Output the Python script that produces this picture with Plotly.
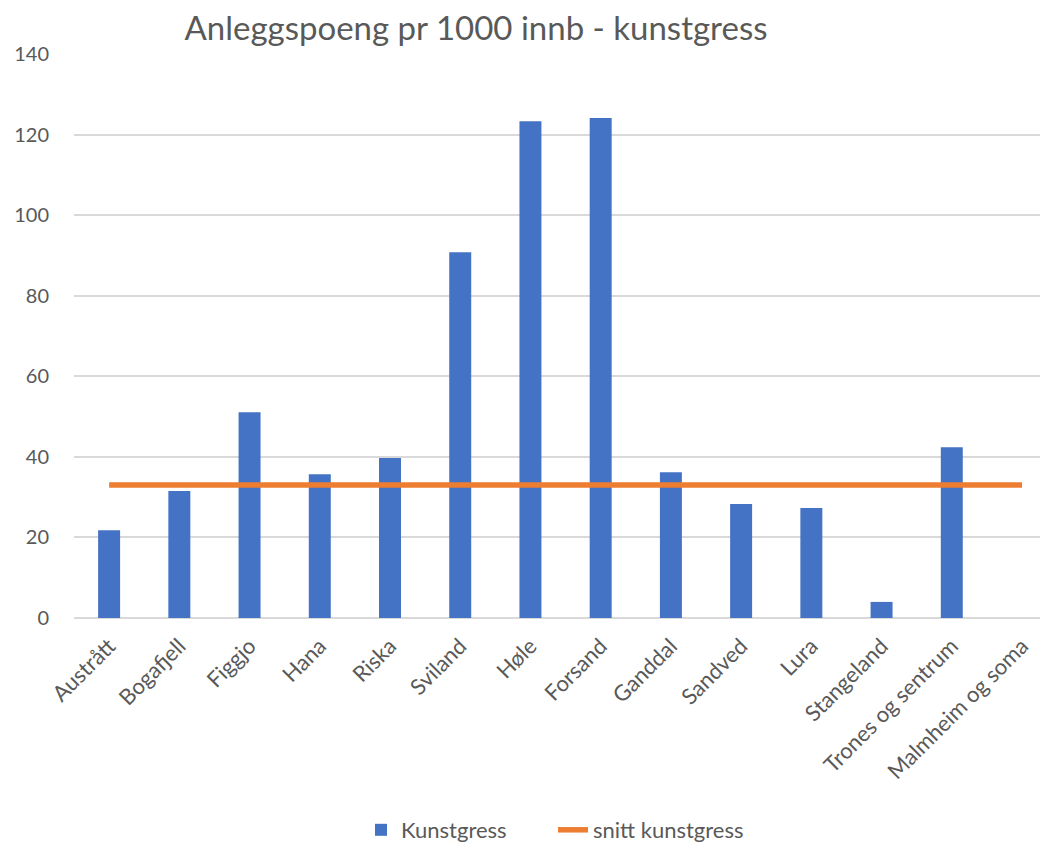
import plotly.graph_objects as go

categories = ["Austrått", "Bogafjell", "Figgjo", "Hana", "Riska", "Sviland", "Høle",
              "Forsand", "Ganddal", "Sandved", "Lura", "Stangeland",
              "Trones og sentrum", "Malmheim og soma"]
kunstgress = [21.8, 31.5, 51.1, 35.7, 39.7, 90.8, 123.3, 124.1, 36.2, 28.3, 27.3, 4.0, 42.4, 0.0]
snitt = [33.0, 33.0, 33.0, 33.0, 33.0, 33.0, 33.0, 33.0, 33.0, 33.0, 33.0, 33.0, 33.0, 33.0]
y_ticks = [0, 20, 40, 60, 80, 100, 120, 140]

FONT = "Lato"
GREY = "#595959"
# page body has an 8px default margin, so the figure is 8px smaller than the window
W, H = 1040, 837
L, R, T, B = 66, 0, 46, 227

fig = go.Figure()
fig.add_trace(go.Bar(x=categories, y=kunstgress, name="Kunstgress",
                     marker=dict(color="#4472C4", line=dict(width=0))))
fig.add_trace(go.Scatter(x=categories, y=snitt, name="snitt kunstgress", mode="lines",
                         line=dict(color="#ED7D31", width=5.5)))

fig.update_layout(
    width=W, height=H,
    margin=dict(l=L, r=R, t=T, b=B, autoexpand=False),
    paper_bgcolor="white", plot_bgcolor="white",
    bargap=0.687,
    font=dict(family=FONT, color=GREY, size=20),
    title=dict(text="Anleggspoeng pr 1000 innb - kunstgress",
               x=468 / W, xref="container", xanchor="center",
               y=1 - 20 / H, yref="container", yanchor="middle",
               font=dict(family=FONT, size=33, color=GREY)),
    showlegend=True,
    legend=dict(orientation="h", x=353 / W, xref="container", xanchor="left",
                y=1 - 822 / H, yref="container", yanchor="middle",
                font=dict(family=FONT, size=22, color=GREY),
                entrywidth=147, entrywidthmode="pixels", traceorder="normal"),
)
fig.update_xaxes(tickangle=-45, showgrid=False, showline=False, ticks="",
                 range=[-0.5, 13.37], automargin=False, ticklabelstandoff=10,
                 tickfont=dict(family=FONT, size=22, color=GREY))
fig.update_yaxes(range=[0, 140], tickvals=y_ticks, showgrid=True, gridcolor="#D9D9D9",
                 gridwidth=1.5, zeroline=True, zerolinecolor="#D9D9D9", zerolinewidth=1.5,
                 showline=False, ticks="", automargin=False, ticklabelstandoff=24,
                 tickfont=dict(family=FONT, size=20, color=GREY))

fig.write_html("out.html")
